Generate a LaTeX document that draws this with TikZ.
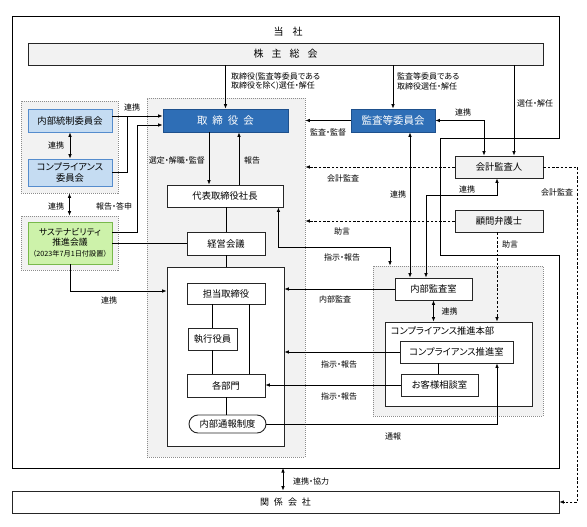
\documentclass[tikz,border=0pt]{standalone}
\usepackage{fontspec}
\setmainfont{Noto Sans CJK JP}[RawFeature=+palt]
\usetikzlibrary{arrows.meta,positioning,calc}

\definecolor{boardblue}{RGB}{46,110,182}
\definecolor{boardedge}{RGB}{30,80,140}
\definecolor{paleblue}{RGB}{197,220,242}
\definecolor{paleedge}{RGB}{85,140,205}
\definecolor{palegreen}{RGB}{205,242,170}
\definecolor{greenedge}{RGB}{120,185,75}
\definecolor{boxgray}{RGB}{242,242,242}

\newcommand{\nodefont}{\fontsize{9.3}{10.5}\selectfont}
\newcommand{\lblfont}{\fontsize{8}{9.5}\selectfont}

\begin{document}
\begin{tikzpicture}[x=1pt, y=-1pt, >={Latex[length=4.5pt,width=3.6pt]},
  block/.style={draw=black!85, line width=0.9pt, fill=white, minimum height=22pt,
    inner sep=1pt, align=center, font=\nodefont},
  outside/.style={block, fill=boxgray},
  bluebox/.style={block, draw=boardedge, fill=boardblue, text=white,
    font=\fontsize{10.5}{12}\selectfont},
  committee/.style={block, draw=paleedge, fill=paleblue},
  group/.style={draw=black!45, dash pattern=on 1pt off 1pt, fill=boxgray, line width=0.6pt},
  arr/.style={->, line width=0.75pt},
  link/.style={<->, line width=0.75pt},
  dasharr/.style={->, line width=0.75pt, dash pattern=on 2.5pt off 1.8pt},
  plain/.style={line width=0.75pt},
  lbl/.style={font=\lblfont, inner sep=0pt, align=left}
]
\useasboundingbox (0,0) rectangle (587,527);

% Company frame
\draw[line width=0.95pt] (12,16) -- (559,16) -- (559,138) -- (440,138) -- (440,255)
  -- (559,255) -- (559,468) -- (12,468) -- cycle;
\node[font=\fontsize{10}{12}\selectfont] (co) at (288,32) {当\hspace{9pt}社};
\coordinate (coS) at (283,468);

% Gray groups
\node[group, minimum width=97pt, minimum height=92pt] (grp1) at (69.5,147) {};
\node[group, minimum width=97pt, minimum height=54pt] (grp2) at (69.5,243) {};
\node[group, minimum width=158pt, minimum height=359pt] (execgrp) at (226,277.5) {};
\node[group, minimum width=170pt, minimum height=150pt] (cgrp) at (458,341) {};

% Row 1: shareholders and boards
\node[outside, minimum width=515pt, font=\fontsize{10}{12}\selectfont] (gm) at (285.5,54)
  {株\hspace{8pt}主\hspace{8pt}総\hspace{8pt}会};
\node[bluebox, minimum width=125pt, minimum height=23pt] (board) at (225.5,120.5)
  {取\hspace{5pt}締\hspace{5pt}役\hspace{5pt}会};
\node[bluebox, minimum width=84pt, minimum height=23pt] (acc) at (393,120.5) {監査等委員会};

% Left: committees
\node[committee, minimum width=84pt, minimum height=23pt] (icc) at (70,120.5) {内部統制委員会};
\node[committee, minimum width=84pt, minimum height=27pt] (ccm) at (70,172.5) {コンプライアンス\\委員会};
\node[block, draw=greenedge, fill=palegreen, minimum width=84pt, minimum height=42pt,
  font=\fontsize{8.8}{10}\selectfont] (sus) at (70,243)
  {サステナビリティ\\推進会議\\[1pt]{\fontsize{7.2}{9}\selectfont （2023年7月1日付設置）}};

% Center: execution
\node[block, minimum width=116pt] (ceo) at (225,196) {代表取締役社長};
\node[block, minimum width=78pt, minimum height=23pt] (mgmt) at (226,243.5) {経営会議};
\node[block, minimum width=117pt, minimum height=179pt] (ops) at (225.5,356.5) {};
\node[block, minimum width=78pt, minimum height=21pt] (dir) at (226,293.5) {担当取締役};
\node[block, minimum width=49pt] (officer) at (212.5,339) {執行役員};
\node[block, minimum width=78pt, minimum height=23pt] (dept) at (226,385.5) {各部門};
\node[block, rounded corners=9pt, minimum width=77pt, minimum height=18pt] (whistle) at (227.5,424) {内部通報制度};

% Right: outside parties
\node[outside, minimum width=88pt] (auditor) at (499,167) {会計監査人};
\node[outside, minimum width=88pt] (lawyer) at (499,221) {顧問弁護士};

% Right: audit and compliance
\node[block, minimum width=77pt] (ia) at (433.5,289) {内部監査室};
\node[block, minimum width=147pt, minimum height=84pt] (chq) at (458.5,364) {};
\node[lbl, font=\nodefont, anchor=west] (chqtitle) at ($(chq.north west)+(6,9)$) {コンプライアンス推進本部};
\node[block, minimum width=113pt] (cpo) at (456.5,352) {コンプライアンス推進室};
\node[block, minimum width=77pt] (cs) at (439.5,385) {お客様相談室};

% Affiliates
\node[block, minimum width=547pt, font=\fontsize{9}{11}\selectfont] (aff) at (285.5,502)
  {関\hspace{5pt}係\hspace{5pt}会\hspace{5pt}社};

% Helper points
\coordinate (audN) at ($(auditor.north)+(15,0)$);
\coordinate (audL) at ($(auditor.north)+(-15,0)$);
\coordinate (audS) at ($(auditor.south)+(-2,0)$);
\coordinate (lawS) at ($(lawyer.south)+(-2,0)$);
\coordinate (accS) at ($(acc.south)+(17,0)$);
\coordinate (iaN) at ($(ia.north)+(-7.5,0)$);
\coordinate (bdL) at ($(board.south)+(-16.5,0)$);
\coordinate (bdR) at ($(board.south)+(13.5,0)$);
\coordinate (ceoR) at ($(ceo.south east)+(-5,0)$);
\coordinate (iaTurn) at (390,247);
\coordinate (cpoS) at ($(cpo.south)+(-18.5,0)$);
\coordinate (cpoW) at ($(cpo.south)+(40.5,0)$);
\coordinate (dirL) at ($(dir.south)+(-14,0)$);
\coordinate (dirR) at ($(dir.south)+(23,0)$);
\coordinate (jn) at (127,116);
\coordinate (jn2) at (137,125);
\coordinate (susR) at ($(sus.east)+(0,-11)$);
\coordinate (opsW) at ($(ops.west)+(0,-65.5)$);

% Elections
\draw[arr] (gm.south -| board) -- (board.north);
\node[lbl, anchor=west] (lBdSel) at (231,81.5) {取締役(監査等委員である\\取締役を除く)選任・解任};
\draw[arr] (gm.south -| acc) -- (acc.north);
\node[lbl, anchor=west] (lAccSel) at (397,81.5) {監査等委員である\\取締役選任・解任};
\draw[arr] (gm.south -| audN) -- (audN);
\node[lbl, anchor=west] (lAudSel) at (517,103) {選任・解任};

% Audit committee links
\draw[link] (acc.east) -| (audL);
\node[lbl] (lAccAud) at (463,112) {連携};
\draw[arr] (acc.west) -- (acc.west -| execgrp.east);
\node[lbl] (lSup) at (328,132) {監査・監督};
\draw[link] (accS) -- (accS |- ia.north);
\node[lbl] (lAccIa) at (398,194) {連携};
\draw[link] (audS) -- ++(0,17) -| (iaN);
\node[lbl] (lAudIa) at (467,189) {連携};

% Outside parties
\draw[dasharr] (auditor.west) -- (auditor.west -| execgrp.east);
\node[lbl] (lAcct) at (343,178) {会計監査};
\draw[dasharr] (lawyer.west) -- (lawyer.west -| execgrp.east);
\node[lbl] (lAdv) at (342,231) {助言};
\draw[dasharr] (auditor.east) -- ++(34,0) |- (aff.east);
\node[lbl] (lAcct2) at (557,192) {会計監査};
\draw[dasharr] (lawS) -- (lawS |- chq.north);
\node[lbl] (lAdv2) at (510,244) {助言};

% Board and executives
\draw[arr] (bdL) -- (bdL |- ceo.north);
\node[lbl, anchor=east] (lSel) at (205,160) {選定・解職・監督};
\draw[arr] (bdR |- ceo.north) -- (bdR);
\node[lbl] (lRep) at (252,160) {報告};
\draw[plain] (ceo.south -| mgmt) -- (mgmt.north);
\draw[plain] (mgmt.south) -- (mgmt.south |- ops.north);
\draw[link] (ceoR) |- (iaTurn) -- (iaTurn |- cgrp.north);
\node[lbl] (lInst) at (342,257) {指示・報告};

% Inside operations
\draw[plain] (dirL) -- (dirL |- officer.north);
\draw[plain] (officer.south) -- (officer.south |- dept.north);
\draw[plain] (dirR) -- (dirR |- dept.north);
\draw[plain] (dept.south) -- (dept.south |- whistle.north);

% Audit and compliance to operations
\draw[arr] (ia.west) -- (ia.west -| ops.east);
\node[lbl] (lIa) at (335,299) {内部監査};
\draw[link] (ia.south) -- (ia.south |- chq.north);
\node[lbl] (lIaChq) at (449.5,311) {連携};
\draw[arr] (cpo.west) -- (cpo.west -| ops.east);
\node[lbl] (lInst2) at (339,364) {指示・報告};
\draw[arr] (cs.west) -- (cs.west -| dept.east);
\node[lbl] (lInst3) at (339,396) {指示・報告};
\draw[plain] (cpoS) -- (cpoS |- cs.north);
\draw[arr] (whistle.east) -| (cpoW);
\node[lbl] (lWb) at (393,436) {通報};

% Left committees
\draw[link] (icc.south) -- (ccm.north);
\node[lbl] (lIcc) at (56,145) {連携};
\draw[link] (grp1.south) -- (grp2.north);
\node[lbl] (lGrp) at (56,206) {連携};
\draw[arr] (icc.east |- jn) -- (board.west |- jn);
\draw[plain] (ccm.east) -| (jn);
\node[lbl] (lIccBd) at (132,107) {連携};
\draw[arr] (susR) -| (jn2) -- (board.west |- jn2);
\node[lbl] (lSusBd) at (114,206) {報告・答申};
\draw[plain] (sus.east |- mgmt) -- (mgmt.west);
\draw[arr] (sus.south) |- (opsW);
\node[lbl] (lSusOps) at (109,300) {連携};

% Affiliates
\draw[link] (coS) -- (coS |- aff.north);
\node[lbl, anchor=west] (lAff) at (293,481) {連携・協力};
\end{tikzpicture}
\end{document}
